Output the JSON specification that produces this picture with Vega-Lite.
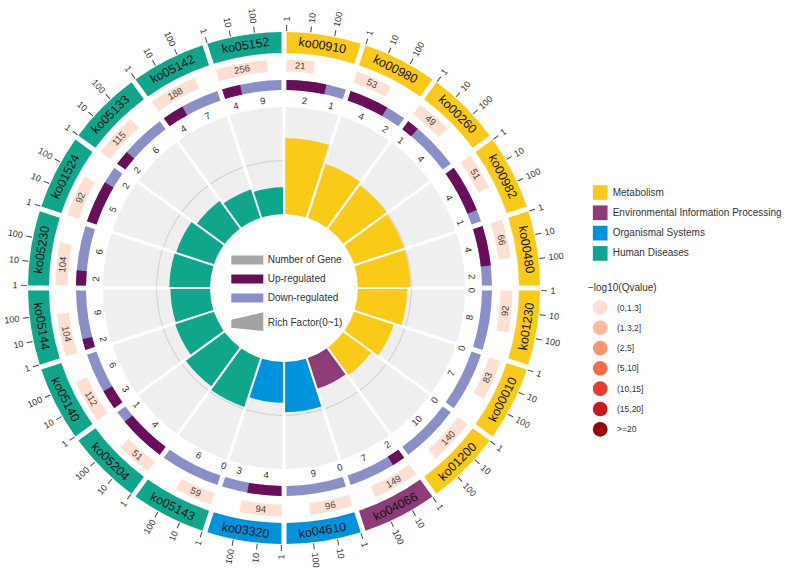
{
  "$schema": "https://vega.github.io/schema/vega-lite/v6.json",
  "width": 568,
  "height": 576,
  "padding": {"left": 0, "top": 0, "right": 224, "bottom": 4},
  "autosize": {"type": "none"},
  "background": "white",
  "config": {"view": {"stroke": null}, "font": "Liberation Sans"},
  "datasets": {
    "sectors": [
      {"k": 1, "id": "ko00910", "cat": "Metabolism", "genes": 21, "up": 2, "down": 1, "rf": 0.71, "q": "(0,1.3]"},
      {"k": 2, "id": "ko00980", "cat": "Metabolism", "genes": 53, "up": 4, "down": 2, "rf": 0.53, "q": "(0,1.3]"},
      {"k": 3, "id": "ko00260", "cat": "Metabolism", "genes": 49, "up": 1, "down": 4, "rf": 0.50, "q": "(0,1.3]"},
      {"k": 4, "id": "ko00982", "cat": "Metabolism", "genes": 51, "up": 4, "down": 1, "rf": 0.49, "q": "(0,1.3]"},
      {"k": 5, "id": "ko00480", "cat": "Metabolism", "genes": 66, "up": 4, "down": 2, "rf": 0.49, "q": "(0,1.3]"},
      {"k": 6, "id": "ko01230", "cat": "Metabolism", "genes": 92, "up": 0, "down": 8, "rf": 0.46, "q": "(0,1.3]"},
      {"k": 7, "id": "ko00010", "cat": "Metabolism", "genes": 83, "up": 0, "down": 7, "rf": 0.39, "q": "(0,1.3]"},
      {"k": 8, "id": "ko01200", "cat": "Metabolism", "genes": 140, "up": 0, "down": 10, "rf": 0.32, "q": "(0,1.3]"},
      {"k": 9, "id": "ko04066", "cat": "Environmental Information Processing", "genes": 149, "up": 2, "down": 7, "rf": 0.30, "q": "(0,1.3]"},
      {"k": 10, "id": "ko04610", "cat": "Organismal Systems", "genes": 96, "up": 0, "down": 9, "rf": 0.47, "q": "(0,1.3]"},
      {"k": 11, "id": "ko03320", "cat": "Organismal Systems", "genes": 94, "up": 4, "down": 3, "rf": 0.38, "q": "(0,1.3]"},
      {"k": 12, "id": "ko05143", "cat": "Human Diseases", "genes": 59, "up": 0, "down": 6, "rf": 0.48, "q": "(0,1.3]"},
      {"k": 13, "id": "ko05204", "cat": "Human Diseases", "genes": 51, "up": 4, "down": 1, "rf": 0.45, "q": "(0,1.3]"},
      {"k": 14, "id": "ko05140", "cat": "Human Diseases", "genes": 112, "up": 3, "down": 6, "rf": 0.38, "q": "(0,1.3]"},
      {"k": 15, "id": "ko05144", "cat": "Human Diseases", "genes": 104, "up": 2, "down": 9, "rf": 0.37, "q": "(0,1.3]"},
      {"k": 16, "id": "ko05230", "cat": "Human Diseases", "genes": 104, "up": 2, "down": 6, "rf": 0.38, "q": "(0,1.3]"},
      {"k": 17, "id": "ko01524", "cat": "Human Diseases", "genes": 92, "up": 5, "down": 2, "rf": 0.37, "q": "(0,1.3]"},
      {"k": 18, "id": "ko05133", "cat": "Human Diseases", "genes": 115, "up": 2, "down": 6, "rf": 0.32, "q": "(0,1.3]"},
      {"k": 19, "id": "ko05142", "cat": "Human Diseases", "genes": 188, "up": 4, "down": 7, "rf": 0.28, "q": "(0,1.3]"},
      {"k": 20, "id": "ko05152", "cat": "Human Diseases", "genes": 256, "up": 4, "down": 9, "rf": 0.25, "q": "(0,1.3]"}
    ],
    "ticks": [
      {"k":1,"t":1},{"k":1,"t":10},{"k":1,"t":100},
      {"k":2,"t":1},{"k":2,"t":10},{"k":2,"t":100},
      {"k":3,"t":1},{"k":3,"t":10},{"k":3,"t":100},
      {"k":4,"t":1},{"k":4,"t":10},{"k":4,"t":100},
      {"k":5,"t":1},{"k":5,"t":10},{"k":5,"t":100},
      {"k":6,"t":1},{"k":6,"t":10},{"k":6,"t":100},
      {"k":7,"t":1},{"k":7,"t":10},{"k":7,"t":100},
      {"k":8,"t":1},{"k":8,"t":10},{"k":8,"t":100},
      {"k":9,"t":1},{"k":9,"t":10},{"k":9,"t":100},
      {"k":10,"t":1},{"k":10,"t":10},{"k":10,"t":100},
      {"k":11,"t":1},{"k":11,"t":10},{"k":11,"t":100},
      {"k":12,"t":1},{"k":12,"t":10},{"k":12,"t":100},
      {"k":13,"t":1},{"k":13,"t":10},{"k":13,"t":100},
      {"k":14,"t":1},{"k":14,"t":10},{"k":14,"t":100},
      {"k":15,"t":1},{"k":15,"t":10},{"k":15,"t":100},
      {"k":16,"t":1},{"k":16,"t":10},{"k":16,"t":100},
      {"k":17,"t":1},{"k":17,"t":10},{"k":17,"t":100},
      {"k":18,"t":1},{"k":18,"t":10},{"k":18,"t":100},
      {"k":19,"t":1},{"k":19,"t":10},{"k":19,"t":100},
      {"k":20,"t":1},{"k":20,"t":10},{"k":20,"t":100}
    ]
  },
  "data": {"name": "sectors"},
  "layer": [
    {
      "transform": [{"calculate": "datum.k - 1", "as": "s"}],
      "mark": {"type": "arc", "radius": 181, "radius2": 74, "padAngle": 0.0153, "fill": "#efefef"},
      "encoding": {
        "theta": {"field": "s", "type": "quantitative", "stack": null, "scale": {"domain": [0, 20], "range": [0, 6.283185307179586]}},
        "theta2": {"field": "k"}
      }
    },
    {
      "transform": [{"calculate": "datum.k - 1", "as": "s"}],
      "mark": {"type": "arc", "radius": 127.9, "radius2": 126.9, "padAngle": 0.0153, "fill": "#cfcfcf"},
      "encoding": {
        "theta": {"field": "s", "type": "quantitative", "stack": null, "scale": {"domain": [0, 20], "range": [0, 6.283185307179586]}},
        "theta2": {"field": "k"}
      }
    },
    {
      "transform": [{"calculate": "datum.k - 1", "as": "s"}],
      "mark": {"type": "arc", "padAngle": 0.0153},
      "encoding": {
        "theta": {"field": "s", "type": "quantitative", "stack": null, "scale": {"domain": [0, 20], "range": [0, 6.283185307179586]}},
        "theta2": {"field": "k"},
        "radius": {"field": "rf", "type": "quantitative", "scale": {"type": "linear", "domain": [0, 1], "range": [74, 181], "zero": false}},
        "radius2": {"datum": 0},
        "color": {
          "field": "cat", "type": "nominal",
          "scale": {"domain": ["Metabolism", "Environmental Information Processing", "Organismal Systems", "Human Diseases"], "range": ["#f9ca17", "#8e3c78", "#0093dd", "#10a68c"]},
          "legend": {"orient": "none", "legendX": 592.7, "legendY": 185, "title": null, "symbolType": "square", "symbolSize": 216, "symbolStrokeWidth": 0, "labelFontSize": 10, "labelColor": "#333", "labelOffset": 5, "labelLimit": 300, "rowPadding": 5.3}
        }
      }
    },
    {
      "transform": [{"calculate": "datum.k - 1", "as": "s"}],
      "mark": {"type": "arc", "radius": 256, "radius2": 235, "padAngle": 0.0144},
      "encoding": {
        "theta": {"field": "s", "type": "quantitative", "stack": null, "scale": {"domain": [0, 20], "range": [0, 6.283185307179586]}},
        "theta2": {"field": "k"},
        "color": {
          "field": "cat", "type": "nominal",
          "scale": {"domain": ["Metabolism", "Environmental Information Processing", "Organismal Systems", "Human Diseases"], "range": ["#f9ca17", "#8e3c78", "#0093dd", "#10a68c"]},
          "legend": null
        }
      }
    },
    {
      "transform": [
        {"calculate": "datum.k - 0.5", "as": "m"},
        {"calculate": "datum.m * 18 < 90 ? datum.m * 18 : (datum.m * 18 < 270 ? datum.m * 18 - 180 : datum.m * 18 - 360)", "as": "rot"}
      ],
      "mark": {"type": "text", "radius": 245.5, "fontSize": 12.5, "fill": "#111", "align": "center", "baseline": "middle"},
      "encoding": {
        "theta": {"field": "m", "type": "quantitative", "stack": null, "scale": {"domain": [0, 20], "range": [0, 6.283185307179586]}},
        "text": {"field": "id"},
        "angle": {"field": "rot", "type": "quantitative", "scale": null}
      }
    },
    {
      "transform": [
        {"calculate": "datum.k - 1 + 0.035", "as": "ps"},
        {"calculate": "datum.ps + log(datum.genes) / LN10 * 0.30", "as": "pe"}
      ],
      "mark": {"type": "arc", "radius": 228.5, "radius2": 216.5},
      "encoding": {
        "theta": {"field": "ps", "type": "quantitative", "stack": null, "scale": {"domain": [0, 20], "range": [0, 6.283185307179586]}},
        "theta2": {"field": "pe"},
        "color": {
          "field": "q", "type": "nominal",
          "scale": {"domain": ["(0,1.3]", "(1.3,2]", "(2,5]", "(5,10]", "(10,15]", "(15,20]", ">=20"], "range": ["#fde0d2", "#fcbba1", "#fc9272", "#fb6a4a", "#ef3b2c", "#cb181d", "#99000d"]},
          "legend": {"orient": "none", "legendX": 588, "legendY": 283, "title": "−log10(Qvalue)", "titleFontSize": 10, "titleFontWeight": "normal", "titleColor": "#333", "titlePadding": 7, "symbolType": "circle", "symbolSize": 216, "symbolStrokeWidth": 0, "symbolOffset": 4.7, "labelOffset": 9.3, "labelFontSize": 8.5, "labelColor": "#333", "rowPadding": 5.3}
        }
      }
    },
    {
      "transform": [
        {"calculate": "datum.k - 1 + 0.035 + log(datum.genes) / LN10 * 0.15", "as": "pm"},
        {"calculate": "datum.pm * 18 < 90 ? datum.pm * 18 : (datum.pm * 18 < 270 ? datum.pm * 18 - 180 : datum.pm * 18 - 360)", "as": "rot"}
      ],
      "mark": {"type": "text", "radius": 222.5, "fontSize": 9.5, "fill": "#444", "align": "center", "baseline": "middle"},
      "encoding": {
        "theta": {"field": "pm", "type": "quantitative", "stack": null, "scale": {"domain": [0, 20], "range": [0, 6.283185307179586]}},
        "text": {"field": "genes"},
        "angle": {"field": "rot", "type": "quantitative", "scale": null}
      }
    },
    {
      "layer": [
        {
          "transform": [{"calculate": "datum.k - 1", "as": "s"}],
          "mark": {"type": "arc", "radius": 208, "radius2": 198, "padAngle": 0.0174},
          "encoding": {
            "theta": {"field": "s", "type": "quantitative", "stack": null, "scale": {"domain": [0, 20], "range": [0, 6.283185307179586]}},
            "theta2": {"field": "k"},
            "color": {
              "datum": "Down-regulated", "type": "nominal",
              "scale": {"domain": ["Number of Gene", "Up-regulated", "Down-regulated", "Rich Factor(0~1)"], "range": ["#a6a6a6", "#690f5a", "#8a8fc8", "#a3a3a3"]},
              "legend": {
                "orient": "none", "legendX": 226.3, "legendY": 255, "title": null,
                "symbolType": "M-4,-1.1H4V1.1H-4Z", "symbolSize": 64, "symbolOffset": 16, "symbolStrokeWidth": 0,
                "labelOffset": 15.4, "labelFontSize": 10, "labelColor": "#333", "rowPadding": 9,
                "encode": {"symbols": {"update": {"shape": {"signal": "datum.value === 'Rich Factor(0~1)' ? 'M-4,-0.8L4,-2.7L4,2L-4,1.2Z' : 'M-4,-1.1H4V1.1H-4Z'"}}}}
              }
            }
          }
        },
        {
          "transform": [
            {"filter": "datum.up > 0"},
            {"calculate": "datum.k - 1", "as": "s"},
            {"calculate": "datum.k - 1 + 0.078 + 0.922 * datum.up / (datum.up + datum.down)", "as": "ue"}
          ],
          "mark": {"type": "arc", "radius": 208, "radius2": 198, "padAngle": 0.0174},
          "encoding": {
            "theta": {"field": "s", "type": "quantitative", "stack": null, "scale": {"domain": [0, 20], "range": [0, 6.283185307179586]}},
            "theta2": {"field": "ue"},
            "color": {"datum": "Up-regulated", "type": "nominal"}
          }
        }
      ]
    },
    {
      "transform": [
        {"fold": ["up", "down"], "as": ["key", "value"]},
        {"calculate": "datum.k - 1 + 0.039 + 0.922 * (datum.key === 'up' ? datum.up / (datum.up + datum.down) / 2 : (datum.up + datum.down / 2) / (datum.up + datum.down))", "as": "um"},
        {"calculate": "datum.um * 18 < 90 ? datum.um * 18 : (datum.um * 18 < 270 ? datum.um * 18 - 180 : datum.um * 18 - 360)", "as": "rot"}
      ],
      "mark": {"type": "text", "radius": 188, "fontSize": 9.5, "fill": "#333", "align": "center", "baseline": "middle"},
      "encoding": {
        "theta": {"field": "um", "type": "quantitative", "stack": null, "scale": {"domain": [0, 20], "range": [0, 6.283185307179586]}},
        "text": {"field": "value"},
        "angle": {"field": "rot", "type": "quantitative", "scale": null}
      }
    },
    {
      "data": {"name": "ticks"},
      "transform": [
        {"calculate": "datum.k - 1 + 0.0325 + log(datum.t) / LN10 * 0.30", "as": "ta"},
        {"calculate": "datum.ta - 0.006", "as": "t0"},
        {"calculate": "datum.ta + 0.006", "as": "t1"}
      ],
      "mark": {"type": "arc", "radius": 263, "radius2": 257, "fill": "#444"},
      "encoding": {
        "theta": {"field": "t0", "type": "quantitative", "stack": null, "scale": {"domain": [0, 20], "range": [0, 6.283185307179586]}},
        "theta2": {"field": "t1"}
      }
    },
    {
      "data": {"name": "ticks"},
      "transform": [
        {"calculate": "datum.k - 1 + 0.0325 + log(datum.t) / LN10 * 0.30", "as": "ta"},
        {"filter": "datum.ta < 10"},
        {"calculate": "datum.ta * 18 - 90", "as": "rot"}
      ],
      "mark": {"type": "text", "radius": 266.5, "fontSize": 9, "fill": "#333", "align": "left", "baseline": "middle"},
      "encoding": {
        "theta": {"field": "ta", "type": "quantitative", "stack": null, "scale": {"domain": [0, 20], "range": [0, 6.283185307179586]}},
        "text": {"field": "t"},
        "angle": {"field": "rot", "type": "quantitative", "scale": null}
      }
    },
    {
      "data": {"name": "ticks"},
      "transform": [
        {"calculate": "datum.k - 1 + 0.0325 + log(datum.t) / LN10 * 0.30", "as": "ta"},
        {"filter": "datum.ta >= 10"},
        {"calculate": "datum.ta * 18 - 270", "as": "rot"}
      ],
      "mark": {"type": "text", "radius": 266.5, "fontSize": 9, "fill": "#333", "align": "right", "baseline": "middle"},
      "encoding": {
        "theta": {"field": "ta", "type": "quantitative", "stack": null, "scale": {"domain": [0, 20], "range": [0, 6.283185307179586]}},
        "text": {"field": "t"},
        "angle": {"field": "rot", "type": "quantitative", "scale": null}
      }
    }
  ],
  "resolve": {"scale": {"color": "independent"}, "legend": {"color": "independent"}}
}
